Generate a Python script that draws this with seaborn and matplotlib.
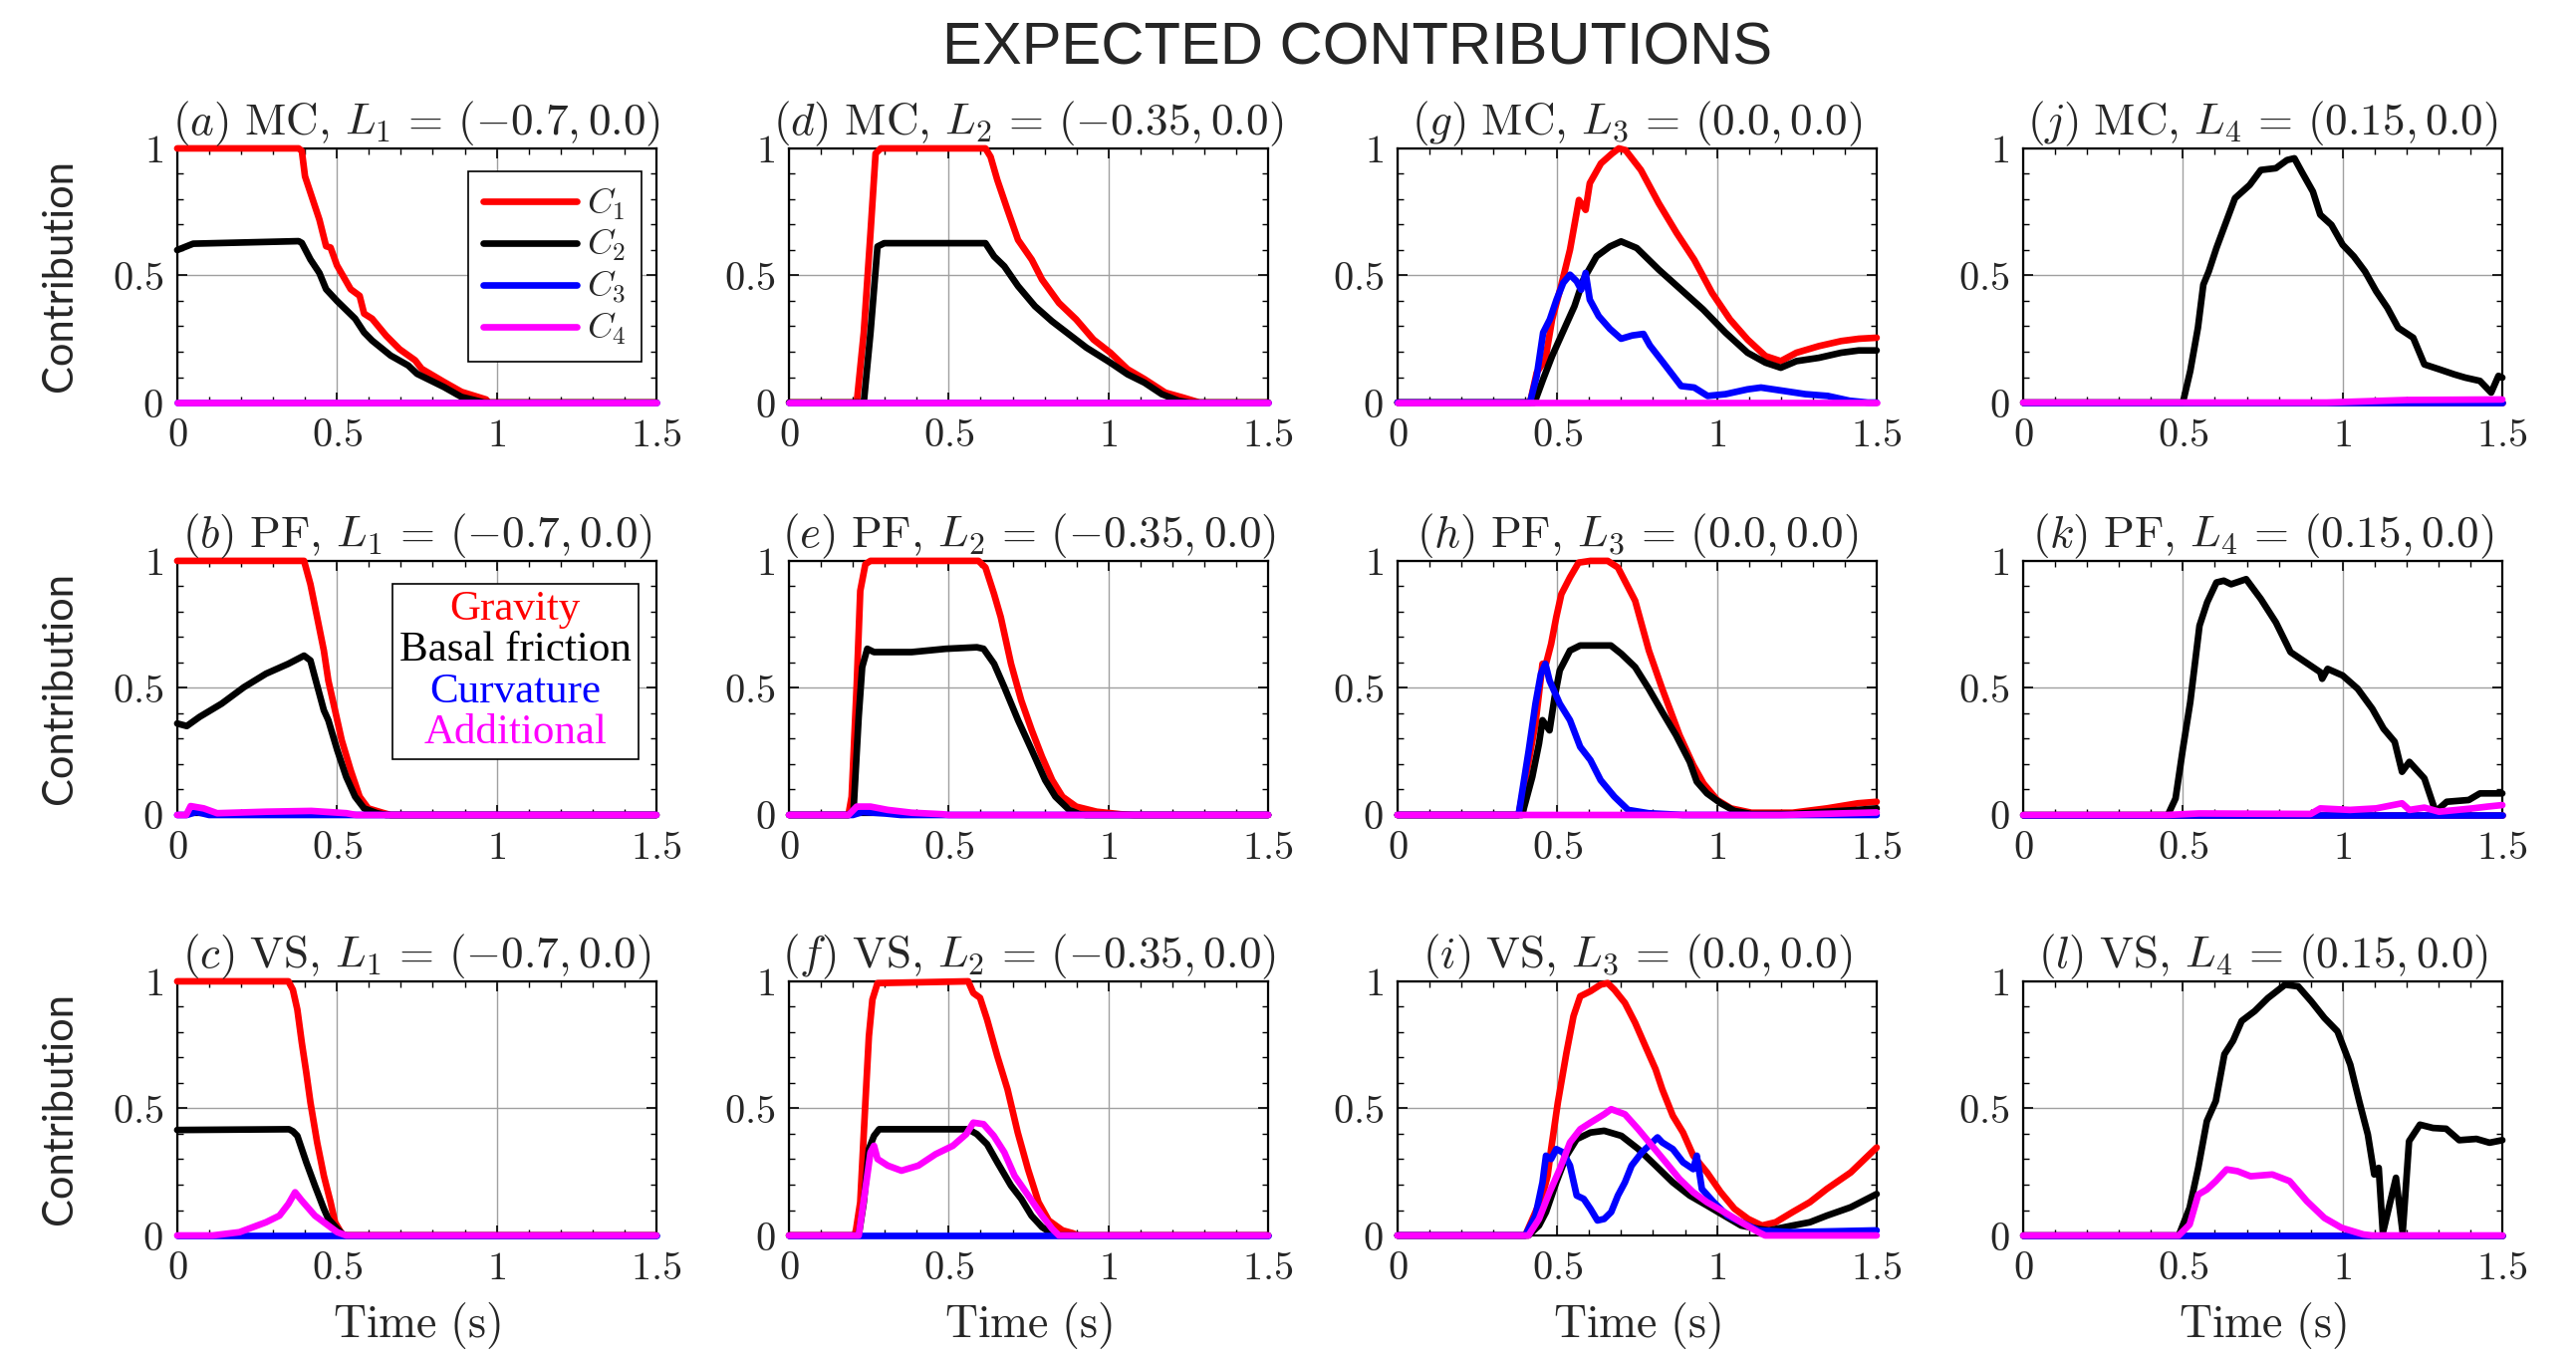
import pandas as pd
import seaborn as sns
import matplotlib.pyplot as plt
from matplotlib.lines import Line2D
from matplotlib.ticker import FixedLocator, FixedFormatter, MultipleLocator
from matplotlib.offsetbox import AnchoredOffsetbox, TextArea, VPacker

# ---- data (time in s, normalised contribution) ----
zero_t = [0, 1.5]
zero_y = [0, 0]

# (a) MC, L1
a_c1_t = [0, 0.38, 0.39, 0.40, 0.445, 0.466, 0.48, 0.50, 0.543, 0.571, 0.585, 0.61, 0.654, 0.696, 0.745, 0.765, 0.835, 0.89, 0.967, 0.975, 1.5]
a_c1_y = [1, 1, 0.99, 0.89, 0.72, 0.615, 0.61, 0.54, 0.446, 0.42, 0.35, 0.33, 0.263, 0.21, 0.166, 0.133, 0.081, 0.042, 0.012, 0, 0]
a_c2_t = [0, 0.05, 0.38, 0.39, 0.417, 0.445, 0.466, 0.50, 0.557, 0.585, 0.61, 0.668, 0.723, 0.751, 0.835, 0.89, 0.93, 0.96, 1.5]
a_c2_y = [0.60, 0.625, 0.635, 0.628, 0.563, 0.51, 0.446, 0.40, 0.33, 0.276, 0.244, 0.185, 0.146, 0.113, 0.061, 0.022, 0.01, 0, 0]

# (b) PF, L1
b_c1_t = [0, 0.397, 0.417, 0.438, 0.459, 0.473, 0.494, 0.515, 0.543, 0.571, 0.598, 0.64, 0.668, 1.5]
b_c1_y = [1, 1, 0.908, 0.778, 0.647, 0.529, 0.412, 0.294, 0.176, 0.072, 0.026, 0.01, 0, 0]
b_c2_t = [0, 0.03, 0.07, 0.139, 0.209, 0.278, 0.348, 0.397, 0.417, 0.431, 0.459, 0.473, 0.501, 0.529, 0.557, 0.585, 0.626, 0.654, 1.5]
b_c2_y = [0.36, 0.35, 0.386, 0.438, 0.503, 0.556, 0.595, 0.627, 0.608, 0.542, 0.412, 0.373, 0.255, 0.150, 0.072, 0.026, 0.007, 0, 0]
b_c3_t = [0, 0.03, 0.06, 0.1, 1.5]
b_c3_y = [0, 0, 0.012, 0, 0]
b_c4_t = [0, 0.028, 0.042, 0.083, 0.125, 0.28, 0.42, 0.53, 0.56, 1.5]
b_c4_y = [0, 0, 0.035, 0.026, 0.007, 0.013, 0.016, 0.007, 0, 0]

# (c) VS, L1
c_c1_t = [0, 0.348, 0.362, 0.376, 0.39, 0.404, 0.417, 0.438, 0.459, 0.48, 0.494, 0.515, 0.529, 1.5]
c_c1_y = [1, 1, 0.967, 0.889, 0.758, 0.641, 0.523, 0.366, 0.235, 0.131, 0.052, 0.007, 0, 0]
c_c2_t = [0, 0.35, 0.362, 0.376, 0.404, 0.431, 0.459, 0.473, 0.501, 0.522, 1.5]
c_c2_y = [0.415, 0.418, 0.41, 0.392, 0.288, 0.196, 0.105, 0.065, 0.026, 0, 0]
c_c4_t = [0, 0.111, 0.195, 0.278, 0.32, 0.348, 0.369, 0.39, 0.431, 0.473, 0.501, 0.529, 1.5]
c_c4_y = [0, 0, 0.013, 0.052, 0.078, 0.124, 0.17, 0.137, 0.078, 0.039, 0.013, 0, 0]

# (d) MC, L2
d_c1_t = [0, 0.212, 0.234, 0.255, 0.271, 0.287, 0.615, 0.631, 0.652, 0.684, 0.717, 0.76, 0.792, 0.845, 0.899, 0.953, 1.006, 1.06, 1.113, 1.178, 1.232, 1.285, 1.5]
d_c1_y = [0, 0, 0.275, 0.667, 0.98, 1, 1, 0.967, 0.876, 0.758, 0.64, 0.562, 0.484, 0.392, 0.327, 0.248, 0.196, 0.131, 0.092, 0.039, 0.02, 0, 0]
d_c2_t = [0, 0.234, 0.255, 0.277, 0.298, 0.615, 0.642, 0.674, 0.717, 0.77, 0.823, 0.877, 0.931, 1.006, 1.06, 1.113, 1.167, 1.22, 1.253, 1.5]
d_c2_y = [0, 0, 0.275, 0.614, 0.627, 0.627, 0.575, 0.536, 0.458, 0.379, 0.32, 0.268, 0.216, 0.157, 0.111, 0.078, 0.033, 0.007, 0, 0]

# (e) PF, L2
e_c1_t = [0, 0.186, 0.196, 0.212, 0.223, 0.239, 0.255, 0.593, 0.615, 0.642, 0.663, 0.695, 0.727, 0.76, 0.792, 0.824, 0.856, 0.899, 0.963, 1.038, 1.08, 1.5]
e_c1_y = [0, 0, 0.072, 0.516, 0.882, 0.987, 1, 1, 0.974, 0.869, 0.778, 0.595, 0.451, 0.333, 0.229, 0.137, 0.072, 0.033, 0.013, 0.003, 0, 0]
e_c2_t = [0, 0.186, 0.202, 0.218, 0.229, 0.245, 0.266, 0.384, 0.491, 0.588, 0.609, 0.642, 0.674, 0.717, 0.76, 0.802, 0.834, 0.877, 0.91, 0.93, 1.5]
e_c2_y = [0, 0, 0.02, 0.386, 0.582, 0.654, 0.641, 0.641, 0.654, 0.66, 0.654, 0.595, 0.503, 0.373, 0.255, 0.137, 0.072, 0.02, 0.003, 0, 0]
e_c3_t = [0, 0.2, 0.23, 0.3, 0.35, 1.5]
e_c3_y = [0, 0, 0.012, 0.006, 0, 0]
e_c4_t = [0, 0.186, 0.212, 0.255, 0.309, 0.384, 0.48, 0.5, 1.5]
e_c4_y = [0, 0, 0.033, 0.033, 0.02, 0.009, 0.003, 0, 0]

# (f) VS, L2
f_c1_t = [0, 0.207, 0.223, 0.239, 0.25, 0.261, 0.277, 0.561, 0.577, 0.598, 0.62, 0.652, 0.684, 0.716, 0.748, 0.781, 0.813, 0.856, 0.888, 0.904, 1.5]
f_c1_y = [0, 0, 0.131, 0.523, 0.784, 0.928, 0.993, 1, 0.954, 0.935, 0.85, 0.706, 0.575, 0.405, 0.261, 0.131, 0.059, 0.02, 0.009, 0, 0]
f_c2_t = [0, 0.218, 0.234, 0.25, 0.266, 0.282, 0.561, 0.588, 0.62, 0.652, 0.695, 0.727, 0.759, 0.792, 0.824, 0.845, 1.5]
f_c2_y = [0, 0, 0.131, 0.34, 0.392, 0.418, 0.418, 0.399, 0.359, 0.288, 0.196, 0.144, 0.078, 0.033, 0.007, 0, 0]
f_c4_t = [0, 0.218, 0.239, 0.255, 0.266, 0.277, 0.309, 0.352, 0.405, 0.459, 0.513, 0.555, 0.577, 0.609, 0.641, 0.674, 0.706, 0.749, 0.792, 0.824, 0.845, 1.5]
f_c4_y = [0, 0, 0.183, 0.327, 0.353, 0.301, 0.275, 0.255, 0.275, 0.32, 0.353, 0.399, 0.444, 0.438, 0.392, 0.327, 0.235, 0.157, 0.078, 0.026, 0, 0]

# (g) MC, L3
g_c1_t = [0, 0.415, 0.436, 0.463, 0.484, 0.512, 0.54, 0.568, 0.589, 0.602, 0.637, 0.672, 0.693, 0.714, 0.762, 0.818, 0.874, 0.929, 0.985, 1.041, 1.096, 1.152, 1.2, 1.249, 1.319, 1.389, 1.444, 1.5]
g_c1_y = [0, 0, 0.118, 0.17, 0.327, 0.458, 0.601, 0.797, 0.758, 0.863, 0.941, 0.98, 1.0, 0.993, 0.915, 0.784, 0.667, 0.562, 0.431, 0.327, 0.248, 0.183, 0.163, 0.196, 0.222, 0.242, 0.251, 0.255]
g_c2_t = [0, 0.429, 0.456, 0.484, 0.526, 0.554, 0.582, 0.623, 0.665, 0.7, 0.749, 0.818, 0.888, 0.957, 1.027, 1.096, 1.152, 1.2, 1.249, 1.319, 1.389, 1.444, 1.5]
g_c2_y = [0, 0, 0.092, 0.183, 0.301, 0.379, 0.484, 0.575, 0.614, 0.634, 0.608, 0.523, 0.444, 0.366, 0.275, 0.196, 0.157, 0.137, 0.163, 0.176, 0.196, 0.205, 0.205]
g_c3_t = [0, 0.415, 0.436, 0.456, 0.477, 0.498, 0.519, 0.54, 0.561, 0.575, 0.589, 0.602, 0.63, 0.665, 0.7, 0.735, 0.77, 0.79, 0.832, 0.888, 0.929, 0.971, 1.027, 1.096, 1.138, 1.208, 1.277, 1.347, 1.416, 1.472, 1.5]
g_c3_y = [0, 0, 0.105, 0.275, 0.327, 0.405, 0.471, 0.503, 0.477, 0.444, 0.51, 0.405, 0.34, 0.29, 0.251, 0.264, 0.27, 0.225, 0.157, 0.065, 0.059, 0.026, 0.033, 0.052, 0.059, 0.046, 0.033, 0.026, 0.007, 0, 0]

# (h) PF, L3
h_c1_t = [0, 0.379, 0.40, 0.432, 0.454, 0.465, 0.481, 0.497, 0.513, 0.54, 0.567, 0.604, 0.658, 0.69, 0.744, 0.787, 0.829, 0.883, 0.926, 0.958, 1.001, 1.044, 1.108, 1.237, 1.344, 1.441, 1.5]
h_c1_y = [0, 0, 0.137, 0.36, 0.595, 0.595, 0.673, 0.778, 0.869, 0.935, 0.993, 1.0, 1.0, 0.974, 0.843, 0.647, 0.496, 0.314, 0.196, 0.124, 0.059, 0.026, 0.009, 0.009, 0.026, 0.046, 0.052]
h_c2_t = [0, 0.39, 0.422, 0.443, 0.454, 0.476, 0.492, 0.508, 0.54, 0.572, 0.668, 0.701, 0.744, 0.787, 0.829, 0.872, 0.915, 0.937, 0.969, 1.012, 1.055, 1.108, 1.237, 1.344, 1.441, 1.5]
h_c2_y = [0, 0, 0.15, 0.281, 0.373, 0.333, 0.464, 0.569, 0.647, 0.667, 0.667, 0.634, 0.582, 0.496, 0.405, 0.314, 0.209, 0.131, 0.085, 0.046, 0.016, 0.004, 0.004, 0.013, 0.02, 0.026]
h_c3_t = [0, 0.379, 0.411, 0.432, 0.449, 0.463, 0.476, 0.508, 0.54, 0.572, 0.604, 0.636, 0.679, 0.722, 0.786, 0.894, 1.5]
h_c3_y = [0, 0, 0.255, 0.438, 0.556, 0.595, 0.529, 0.438, 0.373, 0.268, 0.216, 0.137, 0.072, 0.02, 0.007, 0, 0]
h_c4_t = [0, 1.2, 1.5]
h_c4_y = [0, 0, 0.01]

# (i) VS, L3
i_c1_t = [0, 0.4, 0.432, 0.454, 0.47, 0.481, 0.502, 0.529, 0.551, 0.572, 0.604, 0.636, 0.658, 0.679, 0.712, 0.744, 0.776, 0.808, 0.829, 0.862, 0.894, 0.926, 0.969, 1.012, 1.055, 1.098, 1.141, 1.184, 1.237, 1.291, 1.344, 1.419, 1.5]
i_c1_y = [0, 0, 0.092, 0.157, 0.235, 0.34, 0.523, 0.719, 0.863, 0.941, 0.961, 0.987, 0.993, 0.967, 0.915, 0.837, 0.745, 0.654, 0.575, 0.471, 0.405, 0.314, 0.248, 0.17, 0.105, 0.065, 0.039, 0.052, 0.092, 0.131, 0.183, 0.248, 0.346]
i_c2_t = [0, 0.41, 0.443, 0.465, 0.497, 0.529, 0.561, 0.604, 0.647, 0.701, 0.754, 0.808, 0.862, 0.915, 0.969, 1.023, 1.076, 1.13, 1.162, 1.237, 1.291, 1.344, 1.419, 1.5]
i_c2_y = [0, 0, 0.039, 0.092, 0.209, 0.314, 0.379, 0.405, 0.412, 0.392, 0.34, 0.275, 0.209, 0.157, 0.118, 0.078, 0.039, 0.026, 0.02, 0.039, 0.052, 0.078, 0.111, 0.163]
i_c3_t = [0, 0.4, 0.432, 0.454, 0.465, 0.481, 0.497, 0.518, 0.54, 0.561, 0.583, 0.604, 0.626, 0.647, 0.669, 0.69, 0.712, 0.733, 0.765, 0.787, 0.814, 0.829, 0.862, 0.894, 0.926, 0.937, 0.953, 0.99, 1.033, 1.076, 1.13, 1.237, 1.5]
i_c3_y = [0, 0, 0.078, 0.209, 0.314, 0.301, 0.34, 0.327, 0.275, 0.157, 0.144, 0.105, 0.059, 0.065, 0.092, 0.157, 0.209, 0.275, 0.327, 0.353, 0.386, 0.366, 0.34, 0.288, 0.261, 0.314, 0.183, 0.131, 0.078, 0.052, 0.02, 0.013, 0.02]
i_c4_t = [0, 0.41, 0.443, 0.476, 0.508, 0.54, 0.572, 0.604, 0.647, 0.669, 0.712, 0.754, 0.797, 0.84, 0.883, 0.926, 0.969, 1.023, 1.076, 1.13, 1.151, 1.5]
i_c4_y = [0, 0, 0.065, 0.17, 0.261, 0.366, 0.418, 0.444, 0.477, 0.497, 0.477, 0.418, 0.353, 0.288, 0.222, 0.17, 0.131, 0.092, 0.052, 0.013, 0, 0]

# (j) MC, L4
j_c2_t = [0, 0.5, 0.523, 0.547, 0.564, 0.581, 0.605, 0.628, 0.663, 0.709, 0.744, 0.791, 0.826, 0.849, 0.872, 0.907, 0.93, 0.965, 1.0, 1.035, 1.07, 1.105, 1.14, 1.174, 1.221, 1.256, 1.302, 1.349, 1.384, 1.43, 1.465, 1.488, 1.5]
j_c2_y = [0, 0, 0.124, 0.294, 0.464, 0.516, 0.608, 0.686, 0.804, 0.856, 0.915, 0.922, 0.954, 0.961, 0.908, 0.83, 0.739, 0.699, 0.621, 0.575, 0.516, 0.438, 0.373, 0.294, 0.255, 0.15, 0.131, 0.111, 0.098, 0.085, 0.039, 0.105, 0.098]
j_c4_t = [0, 0.95, 1.2, 1.5]
j_c4_y = [0, 0, 0.01, 0.012]

# (k) PF, L4
k_c2_t = [0, 0.453, 0.477, 0.5, 0.523, 0.552, 0.576, 0.605, 0.628, 0.651, 0.698, 0.744, 0.791, 0.837, 0.884, 0.93, 0.936, 0.953, 1.0, 1.047, 1.093, 1.128, 1.163, 1.186, 1.209, 1.256, 1.291, 1.326, 1.395, 1.43, 1.5]
k_c2_y = [0, 0, 0.065, 0.261, 0.444, 0.745, 0.837, 0.915, 0.922, 0.908, 0.928, 0.85, 0.758, 0.641, 0.601, 0.562, 0.536, 0.575, 0.549, 0.497, 0.418, 0.34, 0.288, 0.17, 0.209, 0.144, 0.013, 0.052, 0.059, 0.085, 0.085]
k_c4_t = [0, 0.45, 0.55, 0.9, 0.93, 1.023, 1.105, 1.186, 1.209, 1.256, 1.302, 1.407, 1.453, 1.5]
k_c4_y = [0, 0, 0.006, 0.004, 0.026, 0.02, 0.026, 0.046, 0.02, 0.029, 0.013, 0.026, 0.033, 0.039]

# (l) VS, L4
l_c2_t = [0, 0.487, 0.521, 0.548, 0.575, 0.603, 0.63, 0.657, 0.684, 0.725, 0.766, 0.82, 0.861, 0.902, 0.943, 0.984, 1.024, 1.052, 1.079, 1.099, 1.113, 1.126, 1.167, 1.188, 1.208, 1.242, 1.283, 1.324, 1.365, 1.419, 1.46, 1.5]
l_c2_y = [0, 0, 0.109, 0.266, 0.45, 0.529, 0.713, 0.766, 0.844, 0.883, 0.934, 0.987, 0.98, 0.921, 0.856, 0.803, 0.672, 0.528, 0.397, 0.24, 0.266, 0.01, 0.227, 0.01, 0.371, 0.436, 0.423, 0.42, 0.375, 0.38, 0.365, 0.375]
l_c4_t = [0, 0.487, 0.521, 0.548, 0.575, 0.603, 0.637, 0.671, 0.712, 0.78, 0.834, 0.888, 0.943, 0.997, 1.065, 1.093, 1.5]
l_c4_y = [0, 0, 0.043, 0.161, 0.181, 0.214, 0.26, 0.253, 0.233, 0.24, 0.214, 0.135, 0.069, 0.03, 0.004, 0, 0]

terms = ["C1", "C2", "C3", "C4"]
colors = {"C1": "#ff0000", "C2": "#000000", "C3": "#0000ff", "C4": "#ff00ff"}
methods = ["MC", "PF", "VS"]
locations = [r"L_1\,=\,(-0.7,0.0)", r"L_2\,=\,(-0.35,0.0)", r"L_3\,=\,(0.0,0.0)", r"L_4\,=\,(0.15,0.0)"]
letters = "abcdefghijkl"

# series per panel, keyed by letter: C1..C4
panels = {
    "a": [(a_c1_t, a_c1_y), (a_c2_t, a_c2_y), (zero_t, zero_y), (zero_t, zero_y)],
    "b": [(b_c1_t, b_c1_y), (b_c2_t, b_c2_y), (b_c3_t, b_c3_y), (b_c4_t, b_c4_y)],
    "c": [(c_c1_t, c_c1_y), (c_c2_t, c_c2_y), (zero_t, zero_y), (c_c4_t, c_c4_y)],
    "d": [(d_c1_t, d_c1_y), (d_c2_t, d_c2_y), (zero_t, zero_y), (zero_t, zero_y)],
    "e": [(e_c1_t, e_c1_y), (e_c2_t, e_c2_y), (e_c3_t, e_c3_y), (e_c4_t, e_c4_y)],
    "f": [(f_c1_t, f_c1_y), (f_c2_t, f_c2_y), (zero_t, zero_y), (f_c4_t, f_c4_y)],
    "g": [(g_c1_t, g_c1_y), (g_c2_t, g_c2_y), (g_c3_t, g_c3_y), (zero_t, zero_y)],
    "h": [(h_c1_t, h_c1_y), (h_c2_t, h_c2_y), (h_c3_t, h_c3_y), (h_c4_t, h_c4_y)],
    "i": [(i_c1_t, i_c1_y), (i_c2_t, i_c2_y), (i_c3_t, i_c3_y), (i_c4_t, i_c4_y)],
    "j": [(zero_t, zero_y), (j_c2_t, j_c2_y), (zero_t, zero_y), (j_c4_t, j_c4_y)],
    "k": [(zero_t, zero_y), (k_c2_t, k_c2_y), (zero_t, zero_y), (k_c4_t, k_c4_y)],
    "l": [(zero_t, zero_y), (l_c2_t, l_c2_y), (zero_t, zero_y), (l_c4_t, l_c4_y)],
}

sns.set_theme(style="white")
plt.rcParams["mathtext.fontset"] = "cm"
plt.rcParams["font.family"] = ["DejaVu Serif"]

fig = plt.figure(figsize=(25.86, 13.64), dpi=100)

lefts = [0.0688, 0.3063, 0.5425, 0.7854]
bottoms = [0.7038, 0.4003, 0.0909]
w, h = 0.186, 0.187

for col in range(4):
    for row in range(3):
        letter = letters[col * 3 + row]
        ax = fig.add_axes([lefts[col], bottoms[row], w, h])
        rows = []
        for term, (tt, yy) in zip(terms, panels[letter]):
            for t, y in zip(tt, yy):
                rows.append({"t": t, "val": y, "term": term})
        df = pd.DataFrame(rows)
        sns.lineplot(data=df, x="t", y="val", hue="term", hue_order=terms,
                     palette=colors, estimator=None, sort=False, lw=4.8,
                     legend=False, ax=ax, clip_on=False, zorder=3)

        ax.set_xlim(0, 1.5)
        ax.set_ylim(0, 1)
        ax.xaxis.set_major_locator(FixedLocator([0, 0.5, 1, 1.5]))
        ax.xaxis.set_major_formatter(FixedFormatter(["$0$", "$0.5$", "$1$", "$1.5$"]))
        ax.yaxis.set_major_locator(FixedLocator([0, 0.5, 1]))
        ax.yaxis.set_major_formatter(FixedFormatter(["$0$", "$0.5$", "$1$"]))
        ax.xaxis.set_minor_locator(MultipleLocator(0.1))
        ax.yaxis.set_minor_locator(MultipleLocator(0.1))
        ax.tick_params(which="both", direction="in", top=True, right=True,
                       bottom=True, left=True, color="black")
        ax.tick_params(which="major", length=7, width=1.2, labelsize=29)
        ax.tick_params(which="minor", length=4, width=1.0)
        ax.tick_params(axis="x", which="major", pad=11)
        ax.tick_params(axis="y", which="major", pad=10)
        ax.grid(True, which="major", color="#a0a0a0", lw=1.0)
        ax.set_axisbelow(True)
        for sp in ax.spines.values():
            sp.set_color("black")
            sp.set_linewidth(1.6)

        title = r"$(%s)\ \mathrm{%s},\,%s$" % (letter, methods[row], locations[col])
        ax.set_title(title, fontsize=32.5, pad=10)

        if col == 0:
            ax.set_ylabel("Contribution", fontsize=30, fontfamily="Lato")
            ax.yaxis.set_label_coords(-0.205, 0.5)
        else:
            ax.set_ylabel("")
        if row == 2:
            ax.set_xlabel(r"$\mathrm{Time\ (s)}$", fontsize=33)
            ax.xaxis.set_label_coords(0.5, -0.255)
        else:
            ax.set_xlabel("")

        if letter == "a":
            handles = [Line2D([], [], color=colors[t], lw=4.8) for t in terms]
            labels = [r"$C_1$", r"$C_2$", r"$C_3$", r"$C_4$"]
            leg = ax.legend(handles, labels, loc="upper right",
                            bbox_to_anchor=(0.968, 0.909), borderaxespad=0,
                            fontsize=26, handlelength=2.6, handletextpad=0.3,
                            labelspacing=0.15, borderpad=0.4, fancybox=False,
                            framealpha=1, edgecolor="black")
            leg.get_frame().set_linewidth(1.2)

        if letter == "b":
            names = [("Gravity", "#ff0000"), ("Basal friction", "#000000"),
                     ("Curvature", "#0000ff"), ("Additional", "#ff00ff")]
            items = [TextArea(n, textprops=dict(color=c, fontsize=31,
                                                fontfamily="Liberation Serif"))
                     for n, c in names]
            pack = VPacker(children=items, align="center", pad=0, sep=2)
            box = AnchoredOffsetbox(loc="upper right", child=pack, pad=0.45,
                                    borderpad=0, frameon=True,
                                    bbox_to_anchor=(0.962, 0.911),
                                    bbox_transform=ax.transAxes)
            box.patch.set_edgecolor("black")
            box.patch.set_linewidth(1.2)
            box.patch.set_facecolor("white")
            box.zorder = 5
            ax.add_artist(box)

fig.text(0.527, 0.964, "EXPECTED CONTRIBUTIONS", ha="center", va="center",
         fontsize=43, fontfamily="Liberation Sans")

fig.savefig("out.png", dpi=100)
